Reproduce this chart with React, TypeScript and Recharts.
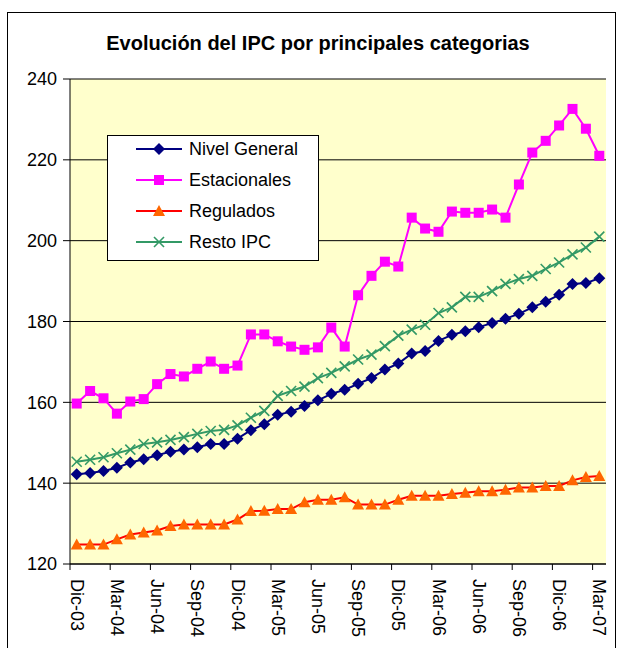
import React from "react";
import { LineChart, Line, XAxis, YAxis, CartesianGrid } from "recharts";

const months = [
  "Dic-03", "Ene-04", "Feb-04", "Mar-04", "Abr-04", "May-04", "Jun-04", "Jul-04", "Ago-04", "Sep-04",
  "Oct-04", "Nov-04", "Dic-04", "Ene-05", "Feb-05", "Mar-05", "Abr-05", "May-05", "Jun-05", "Jul-05",
  "Ago-05", "Sep-05", "Oct-05", "Nov-05", "Dic-05", "Ene-06", "Feb-06", "Mar-06", "Abr-06", "May-06",
  "Jun-06", "Jul-06", "Ago-06", "Sep-06", "Oct-06", "Nov-06", "Dic-06", "Ene-07", "Feb-07", "Mar-07",
];

const nivelGeneral = [
  142.2, 142.5, 143.0, 143.8, 145.1, 145.9, 146.9, 147.8, 148.3, 148.9,
  149.7, 149.7, 151.0, 153.1, 154.6, 156.9, 157.7, 159.1, 160.5, 162.1,
  163.1, 164.6, 166.0, 168.1, 169.6, 172.1, 172.7, 175.2, 176.7, 177.6,
  178.6, 179.6, 180.7, 181.9, 183.5, 184.9, 186.6, 189.3, 189.5, 190.7,
];

const estacionales = [
  159.7, 162.8, 161.0, 157.2, 160.2, 160.8, 164.5, 167.0, 166.4, 168.3,
  170.1, 168.3, 169.1, 176.8, 176.8, 175.1, 173.8, 173.0, 173.6, 178.5,
  173.8, 186.5, 191.3, 194.8, 193.6, 205.7, 203.0, 202.2, 207.2, 206.9,
  206.9, 207.7, 205.7, 213.9, 221.8, 224.7, 228.5, 232.6, 227.7, 221.0,
];

const regulados = [
  124.8, 124.8, 124.8, 126.1, 127.3, 127.8, 128.3, 129.4, 129.8, 129.8,
  129.8, 129.8, 131.0, 133.1, 133.2, 133.6, 133.6, 135.3, 135.9, 135.9,
  136.5, 134.7, 134.7, 134.7, 135.9, 136.9, 136.9, 136.9, 137.3, 137.6,
  138.0, 138.0, 138.4, 138.9, 138.9, 139.3, 139.3, 140.7, 141.5, 141.8,
];

const restoIPC = [
  145.3, 145.8, 146.4, 147.4, 148.3, 149.7, 150.1, 150.7, 151.4, 152.2,
  152.9, 153.2, 154.3, 156.2, 157.9, 161.6, 162.8, 163.9, 166.0, 167.3,
  168.9, 170.6, 171.8, 173.9, 176.5, 178.0, 179.2, 182.1, 183.5, 186.1,
  186.1, 187.5, 189.3, 190.5, 191.3, 193.0, 194.6, 196.6, 198.3, 201.0,
];

const yTicks = [120, 140, 160, 180, 200, 220, 240];

const data = months.map((m, i) => ({
  month: m,
  nivel: nivelGeneral[i],
  estac: estacionales[i],
  regul: regulados[i],
  resto: restoIPC[i],
}));

const FONT = "'Liberation Sans', Arial, sans-serif";
const W = 619;
const H = 648;
const PLOT_LEFT = 70;
const PLOT_RIGHT = 606;
const PLOT_TOP = 79;
const PLOT_BOTTOM = 564;
const BAND = (PLOT_RIGHT - PLOT_LEFT) / months.length;

type Marker = "diamond" | "square" | "triangle" | "cross";

const series: { key: string; name: string; stroke: string; fill: string; marker: Marker }[] = [
  { key: "nivel", name: "Nivel General", stroke: "#000080", fill: "#000080", marker: "diamond" },
  { key: "estac", name: "Estacionales", stroke: "#FF00FF", fill: "#FF00FF", marker: "square" },
  { key: "regul", name: "Regulados", stroke: "#FF0000", fill: "#FF6600", marker: "triangle" },
  { key: "resto", name: "Resto IPC", stroke: "#339966", fill: "#339966", marker: "cross" },
];

function markerShape(marker: Marker, cx: number, cy: number, fill: string) {
  if (marker === "diamond") {
    return <polygon points={`${cx},${cy - 6} ${cx + 6},${cy} ${cx},${cy + 6} ${cx - 6},${cy}`} fill={fill} />;
  }
  if (marker === "square") {
    return <rect x={cx - 5} y={cy - 5} width={10} height={10} fill={fill} />;
  }
  if (marker === "triangle") {
    return <polygon points={`${cx},${cy - 6} ${cx + 6},${cy + 5} ${cx - 6},${cy + 5}`} fill={fill} />;
  }
  return (
    <g stroke={fill} strokeWidth={1.6}>
      <line x1={cx - 5} y1={cy - 5} x2={cx + 5} y2={cy + 5} />
      <line x1={cx - 5} y1={cy + 5} x2={cx + 5} y2={cy - 5} />
    </g>
  );
}

function makeDot(marker: Marker, fill: string) {
  return (props: any) => {
    const { cx, cy, index } = props;
    if (cx == null || cy == null) return <g key={`d-${index}`} />;
    return <g key={`d-${index}`}>{markerShape(marker, cx, cy, fill)}</g>;
  };
}

function MonthTick(props: any) {
  const { x, y, payload } = props;
  const tx = x - BAND / 2;
  return (
    <g>
      <line x1={tx} y1={y} x2={tx} y2={y + 6} stroke="#000" />
      <text
        x={x}
        y={y + 15}
        transform={`rotate(90, ${x}, ${y + 15})`}
        textAnchor="start"
        dominantBaseline="central"
        fontSize={18}
        fontFamily={FONT}
        fill="#000"
      >
        {payload.value}
      </text>
    </g>
  );
}

export default function App() {
  return (
    <div style={{ position: "absolute", left: 0, top: 0, width: W, height: H, overflow: "hidden", background: "#fff" }}>
      <div
        style={{
          position: "absolute",
          left: 7,
          top: 12,
          width: 607,
          height: 660,
          border: "1px solid #000",
        }}
      />
      <div
        style={{
          position: "absolute",
          left: 0,
          width: 636,
          top: 31,
          lineHeight: "24px",
          textAlign: "center",
          fontFamily: FONT,
          fontWeight: "bold",
          fontSize: 20,
          color: "#000",
        }}
      >
        Evolución del IPC por principales categorias
      </div>
      <div style={{ position: "absolute", left: 0, top: 0 }}>
        <LineChart
          width={W}
          height={H}
          data={data}
          margin={{ top: PLOT_TOP, right: W - PLOT_RIGHT, left: PLOT_LEFT - 60, bottom: H - PLOT_BOTTOM - 60 }}
        >
          <CartesianGrid vertical={false} stroke="#000" fill="#FFFFCC" fillOpacity={1} />
          <XAxis
            dataKey="month"
            interval={2}
            height={60}
            padding={{ left: BAND / 2, right: BAND / 2 }}
            tick={<MonthTick />}
            tickLine={false}
            tickSize={0}
            tickMargin={0}
            axisLine={{ stroke: "#000" }}
          />
          <XAxis
            xAxisId="top"
            dataKey="month"
            orientation="top"
            height={0}
            tick={false}
            tickLine={false}
            padding={{ left: BAND / 2, right: BAND / 2 }}
            axisLine={{ stroke: "#808080", strokeWidth: 2 }}
          />
          <YAxis
            domain={[120, 240]}
            ticks={yTicks}
            width={60}
            tickSize={7}
            tickMargin={6}
            tick={{ fill: "#000", fontSize: 18, fontFamily: FONT }}
            tickLine={{ stroke: "#000" }}
            axisLine={{ stroke: "#000" }}
            interval={0}
          />
          <YAxis
            yAxisId="right"
            orientation="right"
            domain={[120, 240]}
            width={0}
            tick={false}
            tickLine={false}
            axisLine={{ stroke: "#808080", strokeWidth: 2 }}
          />
          {series.map((s) => (
            <Line
              key={s.key}
              dataKey={s.key}
              name={s.name}
              stroke={s.stroke}
              strokeWidth={2}
              dot={makeDot(s.marker, s.fill)}
              activeDot={false}
              isAnimationActive={false}
            />
          ))}
        </LineChart>
      </div>
      <div
        style={{
          position: "absolute",
          left: 107,
          top: 135,
          width: 212,
          height: 126,
          background: "#fff",
          border: "1px solid #000",
          boxSizing: "border-box",
          fontFamily: FONT,
          fontSize: 18,
          color: "#000",
        }}
      >
        {series.map((s, i) => (
          <div
            key={s.key}
            style={{ position: "absolute", left: 28, top: -1 + i * 31, height: 28, display: "flex", alignItems: "center" }}
          >
            <svg width={48} height={16} style={{ marginRight: 5 }}>
              <line x1={0} y1={8} x2={46} y2={8} stroke={s.stroke} strokeWidth={2} />
              {markerShape(s.marker, 23, 8, s.fill)}
            </svg>
            <span>{s.name}</span>
          </div>
        ))}
      </div>
    </div>
  );
}
